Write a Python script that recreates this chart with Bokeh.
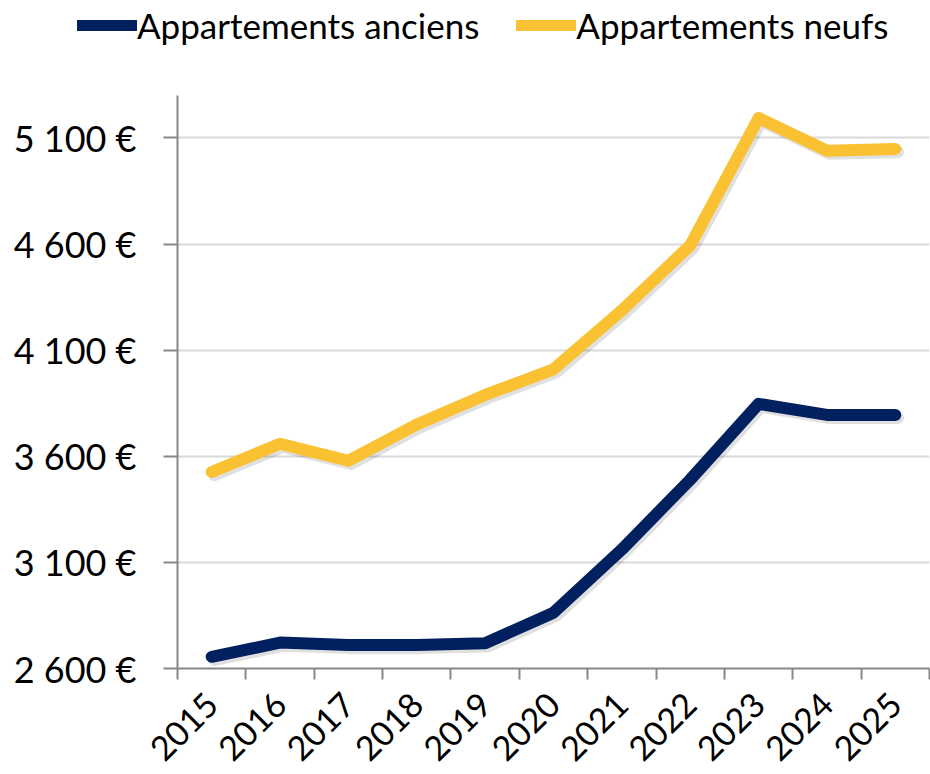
from bokeh.plotting import figure
from bokeh.layouts import column, row
from bokeh.models import FixedTicker, Range1d, Legend, LegendItem
from bokeh.embed import file_html
from bokeh.resources import INLINE
import math

# ---- data ----
years = ["2015", "2016", "2017", "2018", "2019", "2020", "2021", "2022", "2023", "2024", "2025"]
anciens = [2655, 2722, 2711, 2711, 2719, 2863, 3161, 3490, 3847, 3795, 3795]
neufs = [3526, 3659, 3579, 3750, 3889, 4010, 4288, 4594, 5194, 5040, 5048]
y_ticks = [2600, 3100, 3600, 4100, 4600, 5100]
y_min, y_max = 2600, 5300
series_names = ["Appartements anciens", "Appartements neufs"]

NAVY = "#002060"
GOLD = "#FAC132"
FONT = "Lato"

n = len(years)
xs = [i + 0.5 for i in range(n)]

p = figure(width=930, height=694, output_backend="svg", toolbar_location=None,
           x_range=Range1d(0, n), y_range=Range1d(y_min, y_max),
           min_border_left=177, min_border_right=1, min_border_top=15, min_border_bottom=105)
p.outline_line_color = None
p.background_fill_color = "white"
p.border_fill_color = "white"

# grid
p.xgrid.visible = False
p.ygrid.ticker = FixedTicker(ticks=y_ticks)
p.ygrid.grid_line_color = "#D9D9D9"
p.ygrid.grid_line_width = 2

# x axis
p.xaxis.ticker = FixedTicker(ticks=xs, minor_ticks=list(range(n + 1)))
p.xaxis.major_label_overrides = {x: y for x, y in zip(xs, years)}
p.xaxis.major_tick_line_color = None
p.xaxis.major_tick_out = 0
p.xaxis.minor_tick_out = 11
p.xaxis.minor_tick_in = 0
p.xaxis.minor_tick_line_color = "#888888"
p.xaxis.minor_tick_line_width = 2
p.xaxis.axis_line_color = "#888888"
p.xaxis.axis_line_width = 2
p.xaxis.major_label_orientation = math.pi / 4
p.xaxis.major_label_text_font = FONT
p.xaxis.major_label_text_font_size = "34px"
p.xaxis.major_label_text_color = "black"
p.xaxis.major_label_standoff = 19

# y axis
p.yaxis.ticker = FixedTicker(ticks=y_ticks)
p.yaxis.major_label_overrides = {t: f"{t:,}".replace(",", " ") + " €" for t in y_ticks}
p.yaxis.minor_tick_line_color = None
p.yaxis.major_tick_out = 14
p.yaxis.major_tick_in = 0
p.yaxis.major_tick_line_color = "#888888"
p.yaxis.major_tick_line_width = 2
p.yaxis.axis_line_color = "#888888"
p.yaxis.axis_line_width = 2
p.yaxis.major_label_text_font = FONT
p.yaxis.major_label_text_font_size = "36px"
p.yaxis.major_label_text_color = "black"
p.yaxis.major_label_standoff = 27

# soft shadows
for vals in (neufs, anciens):
    p.line([x + 0.04 for x in xs], [v - 15 for v in vals], line_width=12,
           line_color="black", line_alpha=0.12, line_cap="round", line_join="round")

p.line(xs, neufs, line_width=12, line_color=GOLD, line_cap="round", line_join="round")
p.line(xs, anciens, line_width=12, line_color=NAVY, line_cap="round", line_join="round")

# ---- legend strip on top ----
lg = figure(width=930, height=80, output_backend="svg", toolbar_location=None,
            x_range=Range1d(0, 1), y_range=Range1d(0, 1), min_border=0)
lg.axis.visible = False
lg.grid.visible = False
lg.outline_line_color = None
lg.background_fill_color = "white"
lg.border_fill_color = "white"
# renderers only feed the legend (points lie outside the visible range)
lg_anc = lg.line(x=[5, 6], y=[5, 6], line_width=11, line_color=NAVY, line_cap="round")
lg_neu = lg.line(x=[5, 6], y=[5, 6], line_width=11, line_color=GOLD, line_cap="round")
legend = Legend(items=[LegendItem(label=series_names[0], renderers=[lg_anc]),
                       LegendItem(label=series_names[1], renderers=[lg_neu])],
                location=(77, 34), orientation="horizontal",
                glyph_width=60, glyph_height=34, label_standoff=0, spacing=37,
                padding=0, margin=0, border_line_alpha=0, background_fill_alpha=0,
                label_text_font=FONT, label_text_font_size="35px", label_text_color="black")
lg.add_layout(legend)

layout = column(row(lg), p, spacing=0)
open("out.html", "w").write(file_html(layout, INLINE))
